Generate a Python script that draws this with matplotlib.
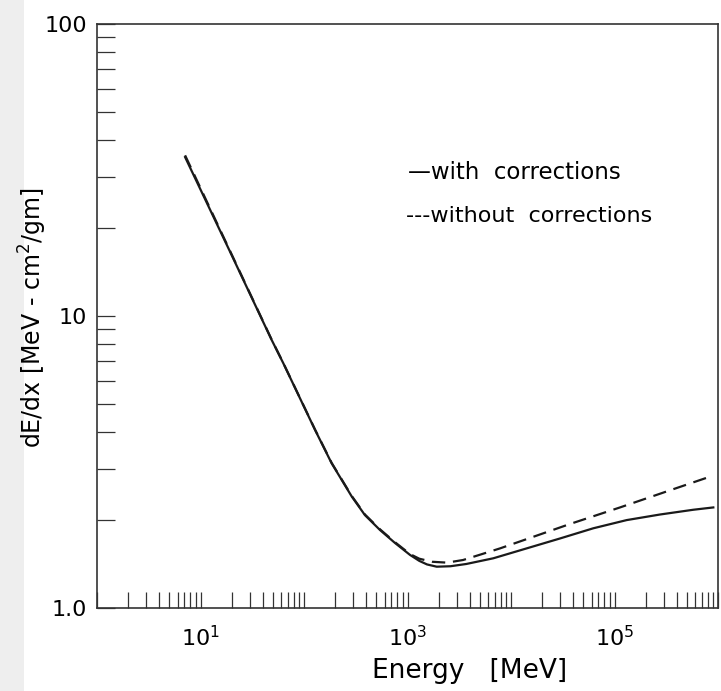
import matplotlib
matplotlib.use("Agg")
import matplotlib.pyplot as plt
from matplotlib.patches import Rectangle
from matplotlib.ticker import FixedLocator, LogLocator, NullFormatter

# values (energy in MeV, dE/dx in MeV-cm^2/gm)
energy_with = [7.1, 19.3, 48.7, 63.1, 128, 185, 289, 388, 542, 757, 1057, 1300,
               1543, 1915, 2600, 3700, 6750, 14150, 29700, 62400, 131000, 275000,
               577000, 901000]
dedx_with = [35, 16.6, 8.28, 6.89, 4.07, 3.13, 2.41, 2.08, 1.85, 1.67, 1.52, 1.45,
             1.41, 1.385, 1.39, 1.415, 1.48, 1.60, 1.73, 1.875, 2.00, 2.09,
             2.17, 2.21]

energy_without = [7.1, 19.3, 48.7, 63.1, 128, 185, 289, 388, 542, 757, 1057, 1300,
                  1725, 2410, 3440, 5250, 7830, 12200, 37200, 113000, 344000, 895000]
dedx_without = [35.5, 16.7, 8.3, 6.9, 4.08, 3.14, 2.42, 2.09, 1.86, 1.68, 1.53, 1.475,
                1.44, 1.43, 1.46, 1.53, 1.60, 1.69, 1.94, 2.21, 2.53, 2.84]

x_labels = {10: "$10^1$", 1000: "$10^3$", 100000: "$10^5$"}
y_labels = {1: "1.0", 10: "10", 100: "100"}

plt.rcParams["font.family"] = ["DejaVu Sans"]
plt.rcParams["mathtext.default"] = "regular"

fig = plt.figure(figsize=(7.21, 6.91), dpi=100)
# light grey strip at the left edge of the scanned page
fig.patches.append(Rectangle((0, 0), 24 / 721, 1, transform=fig.transFigure,
                             facecolor="#eeeeee", edgecolor="none", zorder=-1))
ax = fig.add_axes([97 / 721, 83 / 691, 621 / 721, 584 / 691])

ax.plot(energy_with, dedx_with, color="#1a1a1a", lw=1.6)
ax.plot(energy_without, dedx_without, color="#1a1a1a", lw=1.6, dashes=(6, 3.5))

ax.set_xscale("log")
ax.set_yscale("log")
ax.set_xlim(1, 1e6)
ax.set_ylim(1, 100)

# x axis: ticks at every decade and 2..9, labels only on odd decades
ax.xaxis.set_major_locator(FixedLocator(list(x_labels.keys())))
ax.set_xticklabels(list(x_labels.values()))
ax.xaxis.set_minor_locator(LogLocator(base=10, subs=range(1, 10), numticks=50))
ax.xaxis.set_minor_formatter(NullFormatter())

ax.yaxis.set_major_locator(FixedLocator(list(y_labels.keys())))
ax.set_yticklabels(list(y_labels.values()))
ax.yaxis.set_minor_locator(LogLocator(base=10, subs=range(2, 10), numticks=50))
ax.yaxis.set_minor_formatter(NullFormatter())

ax.tick_params(axis="both", which="both", direction="in", width=0.9,
               color="#333333", top=False, right=False)
ax.tick_params(axis="x", which="both", length=11.5)
ax.tick_params(axis="y", which="both", length=13)
ax.tick_params(axis="x", which="major", pad=12, labelsize=16)
ax.tick_params(axis="y", which="major", pad=7, labelsize=16)

for side in ax.spines.values():
    side.set_linewidth(1.2)
    side.set_color("#333333")

ax.set_xlabel("Energy   [MeV]", fontsize=19)
ax.xaxis.set_label_coords(0.60, -0.086)
ax.set_ylabel("dE/dx [MeV - cm$^2$/gm]", fontsize=17)
ax.yaxis.set_label_coords(-0.078, 0.497)

# legend written as text, like the original figure
ax.text(0.500, 0.745, "\u2014with  corrections", transform=ax.transAxes,
        fontsize=16.5, va="center")
ax.text(0.497, 0.672, "---without  corrections", transform=ax.transAxes,
        fontsize=16, va="center")

fig.savefig("out.png", dpi=100)
